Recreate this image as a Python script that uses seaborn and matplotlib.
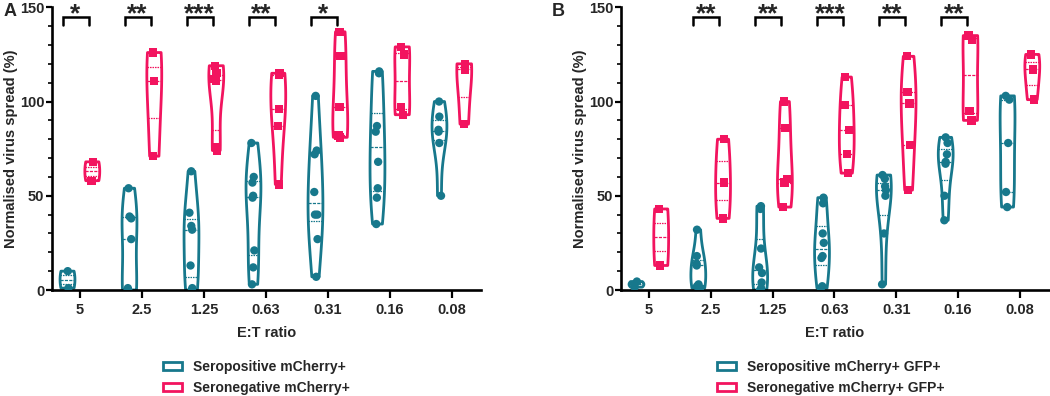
import numpy as np
import pandas as pd
import matplotlib
matplotlib.use("Agg")
import matplotlib.pyplot as plt
from matplotlib.patches import Patch
from matplotlib.ticker import MultipleLocator
import seaborn as sns

# ---------------- data ----------------
ratios = ["5", "2.5", "1.25", "0.63", "0.31", "0.16", "0.08"]

A_pos = [[10, 1], [54, 39, 38, 27, 1, 0, 0], [63, 41, 34, 32, 13, 1, 0],
         [78, 60, 57, 50, 49, 21, 12, 3], [103, 74, 72, 52, 40, 40, 27, 7],
         [116, 115, 87, 84, 68, 54, 49, 35], [100, 92, 85, 84, 78, 50]]
A_neg = [[68, 58], [126, 111, 71], [119, 115, 112, 111, 76, 74],
         [115, 114, 96, 87, 56], [137, 124, 97, 81, 82],
         [129, 125, 97, 93], [120, 117, 88]]

B_pos = [[4.5, 3, 1.5], [32, 18, 14, 13, 3, 2, 1], [44.5, 43, 22, 12, 9, 4, 1, 0],
         [49, 46, 30, 25, 18, 17, 2, 1], [61, 59, 55, 53, 50, 30, 3],
         [81, 78, 72, 68, 67, 50, 37], [103, 101, 78, 52, 44]]
B_neg = [[43, 13], [80, 57, 38], [100, 86, 59, 57, 44], [113, 98, 85, 72, 62],
         [124, 105, 99, 77, 53], [135, 133, 95, 90], [125, 117, 101]]

A_groups = ["Seropositive mCherry+", "Seronegative mCherry+"]
B_groups = ["Seropositive mCherry+ GFP+", "Seronegative mCherry+ GFP+"]

A_sig_idx = [0, 1, 2, 3, 4]
A_sig = ["*", "**", "***", "**", "*"]
B_sig_idx = [1, 2, 3, 4, 5]
B_sig = ["**", "**", "***", "**", "**"]

TEAL = "#17788C"
PINK = "#F2145F"

sns.set_style("ticks")
plt.rcParams["font.family"] = ["Liberation Sans", "DejaVu Sans"]
plt.rcParams["font.weight"] = "bold"
plt.rcParams["axes.labelweight"] = "bold"


def build_df(pos, neg, groups):
    rows = []
    for r, vals in zip(ratios, pos):
        for v in vals:
            rows.append((r, groups[0], v))
    for r, vals in zip(ratios, neg):
        for v in vals:
            rows.append((r, groups[1], v))
    return pd.DataFrame(rows, columns=["ratio", "group", "value"])


fig = plt.figure(figsize=(10.5, 3.96), dpi=100)
axA = fig.add_axes([52 / 1050, 1 - 290 / 396, 429 / 1050, 282.7 / 396])
axB = fig.add_axes([621 / 1050, 1 - 290 / 396, 428 / 1050, 282.7 / 396])

np.random.seed(3)


def draw(ax, pos, neg, groups, sig_idx, sig, letter, lx, leg_x):
    df = build_df(pos, neg, groups)
    pal = {groups[0]: TEAL, groups[1]: PINK}
    sns.violinplot(data=df, x="ratio", y="value", hue="group", order=ratios,
                   hue_order=groups, palette=pal, fill=False, cut=0,
                   inner="quart", density_norm="width", width=0.8, gap=0.4,
                   linewidth=2.0, inner_kws=dict(linewidth=0.9),
                   legend=False, ax=ax)
    for g, mk in zip(groups, ["o", "s"]):
        sub = df[df["group"] == g]
        sns.stripplot(data=sub, x="ratio", y="value", hue="group", order=ratios,
                      hue_order=groups, palette=pal, dodge=True, jitter=0.07,
                      marker=mk, size=6, linewidth=0, legend=False, ax=ax)
    ax.set_xlim(-0.45, 6.47)
    ax.set_ylim(0, 150)
    ax.yaxis.set_major_locator(MultipleLocator(50))
    ax.yaxis.set_minor_locator(MultipleLocator(10))
    for s in ["top", "right"]:
        ax.spines[s].set_visible(False)
    for s in ["left", "bottom"]:
        ax.spines[s].set_linewidth(1.9)
        ax.spines[s].set_color("black")
    ax.tick_params(axis="y", which="major", length=4.5, width=1.6, labelsize=10.5,
                   pad=1, color="black")
    ax.tick_params(axis="y", which="minor", length=3, width=1.2, color="black")
    ax.tick_params(axis="x", which="major", length=6, width=1.6, labelsize=10.5,
                   pad=3, color="black")
    for t in ax.get_xticklabels() + ax.get_yticklabels():
        t.set_fontweight("bold")
    ax.set_xlabel("E:T ratio", fontsize=10.5, fontweight="bold", labelpad=7)
    ax.set_ylabel("Normalised virus spread (%)", fontsize=10.5, fontweight="bold",
                  labelpad=1.5)
    # significance brackets
    for i, s in zip(sig_idx, sig):
        x0, x1 = i - 0.28, i + 0.14
        ax.plot([x0, x0, x1, x1], [140.5, 144.8, 144.8, 140.5], color="black",
                lw=1.8, clip_on=False, solid_joinstyle="miter")
        ax.text((x0 + x1) / 2, 142.5, s, ha="center", va="baseline", fontsize=19,
                fontweight="bold", clip_on=False)
    fig.text(lx, 1 - 12 / 396, letter, fontsize=13, fontweight="bold",
             ha="left", va="center")
    handles = [Patch(facecolor="white", edgecolor=c, linewidth=2, label=g)
               for g, c in zip(groups, [TEAL, PINK])]
    fig.legend(handles=handles, loc="upper left",
               bbox_to_anchor=(leg_x, 1 - 360 / 396), frameon=False,
               prop=dict(size=10, weight="bold"), handlelength=1.35,
               handleheight=0.55, handletextpad=0.8, labelspacing=0.5,
               borderpad=0, borderaxespad=0)


draw(axA, A_pos, A_neg, A_groups, A_sig_idx, A_sig, "A", 4 / 1050, 163 / 1050)
draw(axB, B_pos, B_neg, B_groups, B_sig_idx, B_sig, "B", 552 / 1050, 717 / 1050)

fig.savefig("out.png", dpi=100)
